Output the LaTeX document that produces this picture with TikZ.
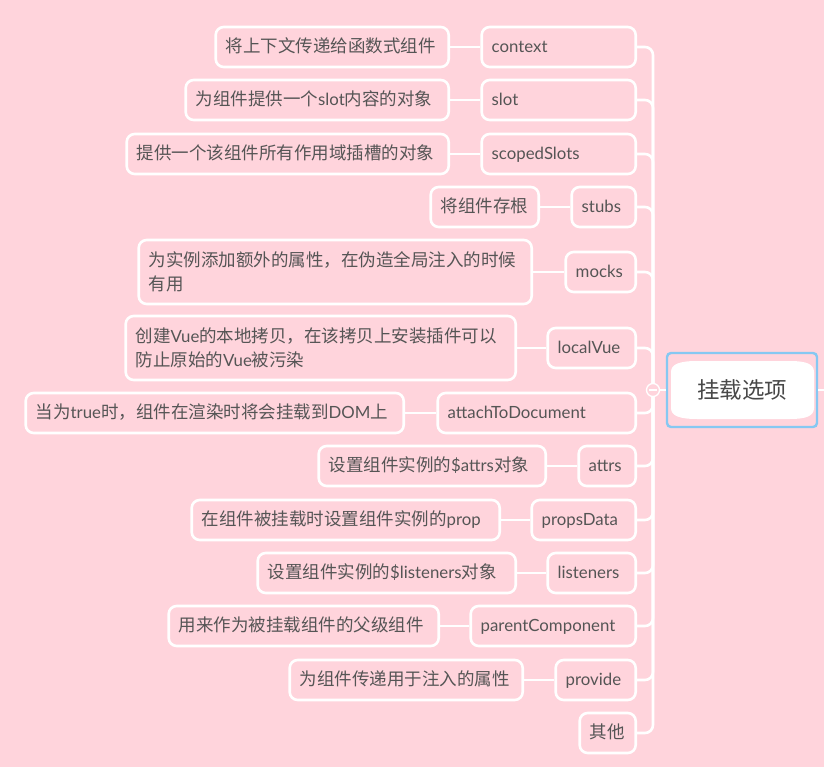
\documentclass[tikz,border=0pt]{standalone}
\usepackage{fontspec}
\setmainfont{Noto Sans CJK SC}
\newfontfamily\latinfont{Lato}[Scale=0.96]
\newcommand\ltn[1]{{\latinfont #1}}
\definecolor{bg}{HTML}{FFD4DC}
\definecolor{txt}{HTML}{555555}
\definecolor{rootblue}{HTML}{86C8F2}
\tikzset{
  base/.style={draw=white, line width=2.6pt, rounded corners=8pt, text=txt,
    font=\fontsize{17.5}{24}\selectfont, inner xsep=10pt, inner ysep=4pt,
    align=left, minimum height=40pt, anchor=east, text height=14pt, text depth=3.5pt},
  twoline/.style={minimum height=64pt, text height={}, text depth={}},
  conn/.style={draw=white, line width=2.6pt, rounded corners=8pt},
}
\begin{document}
\begin{tikzpicture}[x=1pt,y=-1pt]
\useasboundingbox (0,0) rectangle (824,767);
\fill[bg] (0,0) rectangle (824,767);
% root inner white shape
\fill[white] (671,372) .. controls (671,364) and (680,361) .. (697,361) -- (790,361)
  .. controls (806,361) and (814,364) .. (814,372) -- (814,408)
  .. controls (814,416) and (806,419) .. (790,419) -- (697,419)
  .. controls (680,419) and (671,416) .. (671,408) -- cycle;
% children
\node[base, text width=134pt] (c1) at (637,47) {\ltn{context}};
\node[base, text width=134pt] (c2) at (637,100) {\ltn{slot}};
\node[base, text width=134pt] (c3) at (637,154) {\ltn{scopedSlots}};
\node[base, text width=44pt] (c4) at (637,207) {\ltn{stubs}};
\node[base, text width=50pt] (c5) at (637,272) {\ltn{mocks}};
\node[base, text width=68pt] (c6) at (637,348) {\ltn{localVue}};
\node[base, text width=178pt] (c7) at (637,413) {\ltn{attachToDocument}};
\node[base, text width=37pt] (c8) at (637,466) {\ltn{attrs}};
\node[base, text width=84pt] (c9) at (637,520) {\ltn{propsData}};
\node[base, text width=68pt] (c10) at (637,573) {\ltn{listeners}};
\node[base, text width=145pt] (c11) at (637,626) {\ltn{parentComponent}};
\node[base, text width=60pt] (c12) at (637,680) {\ltn{provide}};
\node[base, text width=36pt] (c13) at (637,733) {其他};
% leaves
\node[base, text width=213pt] (l1) at (450,47) {将上下文传递给函数式组件};
\node[base, text width=243pt] (l2) at (450,100) {为组件提供一个\ltn{slot}内容的对象};
\node[base, text width=302pt] (l3) at (450,154) {提供一个该组件所有作用域插槽的对象};
\node[base, text width=88pt] (l4) at (540,207) {将组件存根};
\node[base, twoline, text width=373pt] (l5) at (533,272) {为实例添加额外的属性，在伪造全局注入的时候\\有用};
\node[base, twoline, text width=370pt] (l6) at (517,348) {创建\ltn{Vue}的本地拷贝，在该拷贝上安装插件可以\\防止原始的\ltn{Vue}被污染};
\node[base, text width=358pt] (l7) at (405,413) {当为\ltn{true}时，组件在渲染时将会挂载到\ltn{DOM}上};
\node[base, text width=207pt] (l8) at (547,466) {设置组件实例的\ltn{\$attrs}对象};
\node[base, text width=288pt] (l9) at (501,520) {在组件被挂载时设置组件实例的\ltn{prop}};
\node[base, text width=238pt] (l10) at (517,573) {设置组件实例的\ltn{\$listeners}对象};
\node[base, text width=250pt] (l11) at (440,626) {用来作为被挂载组件的父级组件};
\node[base, text width=213pt] (l12) at (524,680) {为组件传递用于注入的属性};
% leaf connectors
\foreach \i in {1,...,12} { \draw[conn] (l\i.east) -- (c\i.west); }
% spine
\coordinate (spine) at (653,390);
\foreach \i in {1,...,13} { \draw[conn] (c\i.east) -| (spine); }
% toggle
\node[circle, draw=white, fill=bg, line width=1.3pt, minimum size=13pt, inner sep=0pt] (tog) at (653,390) {};
\draw[white, line width=1.3pt] ([xshift=-3.8pt]tog.center) -- ([xshift=3.8pt]tog.center);
% root
\node[draw=rootblue, line width=2.4pt, rounded corners=4pt, minimum width=150pt,
  minimum height=74pt, text=txt!85!black, font=\fontsize{22.5}{26}\selectfont] (root) at (742,390) {挂载选项};
\coordinate (rend) at (824,390);
\draw[white, line width=2.6pt] (tog.east) -- (root.west);
\draw[white, line width=2.6pt] (root.east) -- (rend);
\end{tikzpicture}
\end{document}
